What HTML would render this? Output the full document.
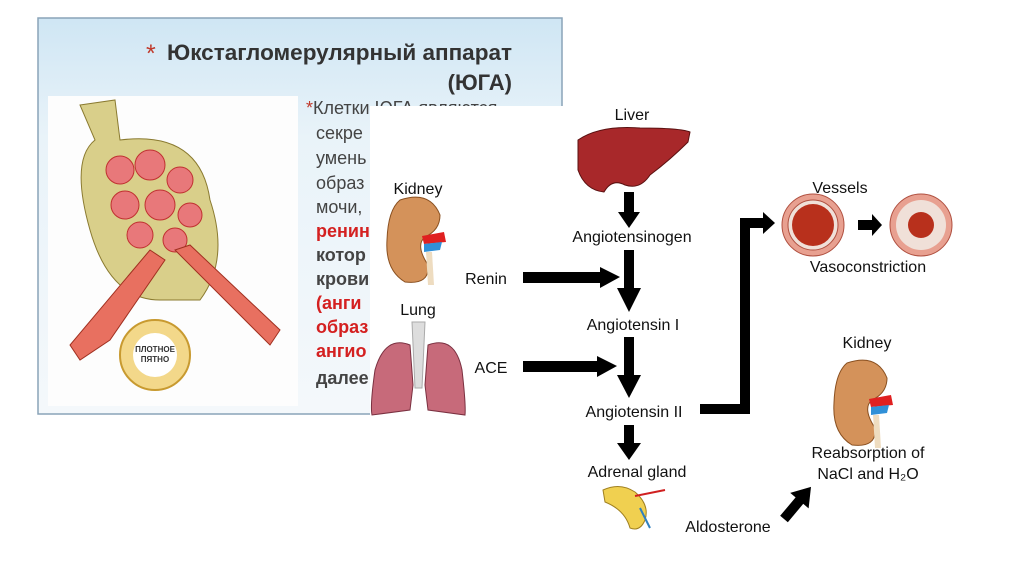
<!DOCTYPE html>
<html><head><meta charset="utf-8"><style>
html,body{margin:0;padding:0;background:#fff;width:1024px;height:574px;overflow:hidden}
svg{display:block}
text{font-family:"Liberation Sans","DejaVu Sans",sans-serif}
</style></head><body>
<svg width="1024" height="574" viewBox="0 0 1024 574" xmlns="http://www.w3.org/2000/svg">
<defs>
<linearGradient id="bg" x1="0" y1="0" x2="0" y2="1">
<stop offset="0" stop-color="#cfe6f4"/><stop offset="0.3" stop-color="#e9f3f9"/><stop offset="1" stop-color="#f4f8fb"/>
</linearGradient>
</defs>
<rect x="38" y="18" width="524" height="396" fill="url(#bg)" stroke="#8aa4b8" stroke-width="1.5"/>
<text x="146" y="62" font-size="25" fill="#c0392b">*</text>
<text x="512" y="60" font-size="22" font-weight="bold" fill="#333" text-anchor="end" textLength="345" lengthAdjust="spacingAndGlyphs">Юкстагломерулярный аппарат</text>
<text x="512" y="90" font-size="22" font-weight="bold" fill="#333" text-anchor="end">(ЮГА)</text>
<rect x="48" y="96" width="250" height="310" fill="#fdfdfd"/>
<path d="M80 105 L115 100 L120 140 Q200 130 210 200 Q230 260 200 300 L160 300 Q110 300 90 230 Q70 160 95 140 Z" fill="#d9cf8a" stroke="#8a7a30"/>
<g fill="#e8787a" stroke="#c03030">
<circle cx="120" cy="170" r="14"/><circle cx="150" cy="165" r="15"/><circle cx="180" cy="180" r="13"/>
<circle cx="125" cy="205" r="14"/><circle cx="160" cy="205" r="15"/><circle cx="190" cy="215" r="12"/>
<circle cx="140" cy="235" r="13"/><circle cx="175" cy="240" r="12"/>
</g>
<path d="M150 250 L165 260 L110 340 L80 360 L70 345 Z" fill="#e87060" stroke="#a03020"/>
<path d="M175 250 L190 245 L280 330 L270 345 Z" fill="#e87060" stroke="#a03020"/>
<circle cx="155" cy="355" r="35" fill="#f3d88a" stroke="#c89a30" stroke-width="2"/>
<circle cx="155" cy="355" r="22" fill="#fff"/>
<text x="155" y="352" font-size="8" text-anchor="middle" font-weight="bold" fill="#333">ПЛОТНОЕ</text>
<text x="155" y="362" font-size="8" text-anchor="middle" font-weight="bold" fill="#333">ПЯТНО</text>
<g font-size="18" fill="#444">
<text x="306" y="114"><tspan fill="#c0392b">*</tspan>Клетки ЮГА являются</text>
<text x="316" y="139">секре</text><text x="316" y="164">умень</text><text x="316" y="189">образ</text>
<text x="316" y="213">мочи,</text>
<text x="316" y="237" fill="#d42020" font-weight="bold">ренин</text>
<text x="316" y="261" font-weight="bold">котор</text>
<text x="316" y="285" font-weight="bold">крови</text>
<text x="316" y="309" fill="#d42020" font-weight="bold">(анги</text>
<text x="316" y="333" fill="#d42020" font-weight="bold">образ</text>
<text x="316" y="357" fill="#d42020" font-weight="bold">ангио</text>
<text x="316" y="384" font-weight="bold">далее</text>
</g>
<rect x="370" y="106" width="654" height="468" fill="#fff"/>
<g font-size="16" fill="#111" text-anchor="middle">
<text x="632" y="120">Liver</text>
<text x="632" y="242">Angiotensinogen</text>
<text x="633" y="330">Angiotensin I</text>
<text x="634" y="417">Angiotensin II</text>
<text x="637" y="477">Adrenal gland</text>
<text x="728" y="532">Aldosterone</text>
<text x="418" y="194">Kidney</text>
<text x="418" y="315">Lung</text>
<text x="486" y="284">Renin</text>
<text x="491" y="373">ACE</text>
<text x="840" y="193">Vessels</text>
<text x="868" y="272">Vasoconstriction</text>
<text x="867" y="348">Kidney</text>
<text x="868" y="458">Reabsorption of</text>
<text x="868" y="479">NaCl and H₂O</text>
</g>
<path d="M578 140 Q600 125 640 128 Q680 128 690 132 L688 142 Q670 160 650 175 Q640 190 625 185 Q612 178 604 192 Q585 190 578 170 Z" fill="#a8282a" stroke="#5a1010"/>
<g fill="#000">
<rect x="624" y="192" width="10" height="22"/><polygon points="618,212 640,212 629,228"/>
<rect x="624" y="250" width="10" height="40"/><polygon points="617,288 641,288 629,312"/>
<rect x="624" y="337" width="10" height="40"/><polygon points="617,375 641,375 629,398"/>
<rect x="624" y="425" width="10" height="20"/><polygon points="617,443 641,443 629,460"/>
<rect x="523" y="272" width="80" height="11"/><polygon points="600,267 600,288 620,277"/>
<rect x="523" y="361" width="78" height="11"/><polygon points="597,356 597,377 617,366"/>
<polygon points="700,404 740,404 740,218 765,218 765,228 750,228 750,414 700,414"/>
<polygon points="763,212 763,234 775,223"/>
<rect x="858" y="220" width="16" height="10"/><polygon points="872,214 872,236 882,225"/>
<g transform="translate(784,519) rotate(-50)"><rect x="0" y="-5" width="26" height="10"/><polygon points="24,-12 24,12 42,0"/></g>
</g>
<circle cx="813" cy="225" r="31" fill="#e8a090" stroke="#b05040"/>
<circle cx="813" cy="225" r="25" fill="#f0e0d8" stroke="#b05040"/>
<circle cx="813" cy="225" r="21" fill="#b8301c"/>
<circle cx="921" cy="225" r="31" fill="#e8a090" stroke="#b05040"/>
<circle cx="921" cy="225" r="25" fill="#f0e0d8"/>
<circle cx="921" cy="225" r="13" fill="#b8301c"/>
<g id="k">
<path d="M400 200 Q430 190 440 215 Q440 230 425 237 Q415 245 428 265 Q430 285 405 282 Q385 270 387 240 Q388 210 400 200 Z" fill="#d4925a" stroke="#8a5020"/>
<path d="M422 236 L444 232 L446 242 L424 244 Z" fill="#e02020"/>
<path d="M424 244 L442 242 L440 250 L424 252 Z" fill="#3090d8"/>
<path d="M426 252 L432 252 L434 285 L428 285 Z" fill="#eedcc0"/>
</g>
<use href="#k" transform="translate(447,163)"/>
<path d="M412 322 L425 322 L422 388 L415 388 Z" fill="#ddd" stroke="#aaa"/>
<path d="M410 345 Q385 335 375 370 Q370 405 372 415 L410 410 L413 385 Z" fill="#c76a7a" stroke="#7a3040"/>
<path d="M428 345 Q455 335 462 370 Q466 405 465 415 L428 410 L425 385 Z" fill="#c76a7a" stroke="#7a3040"/>
<path d="M603 490 Q620 482 635 492 Q650 505 645 520 Q640 532 630 528 Q625 510 605 502 Z" fill="#f0d050" stroke="#a08020"/>
<path d="M635 496 L665 490" stroke="#d02020" stroke-width="2" fill="none"/>
<path d="M640 508 L650 528" stroke="#3080c0" stroke-width="2" fill="none"/>
</svg>
</body></html>
